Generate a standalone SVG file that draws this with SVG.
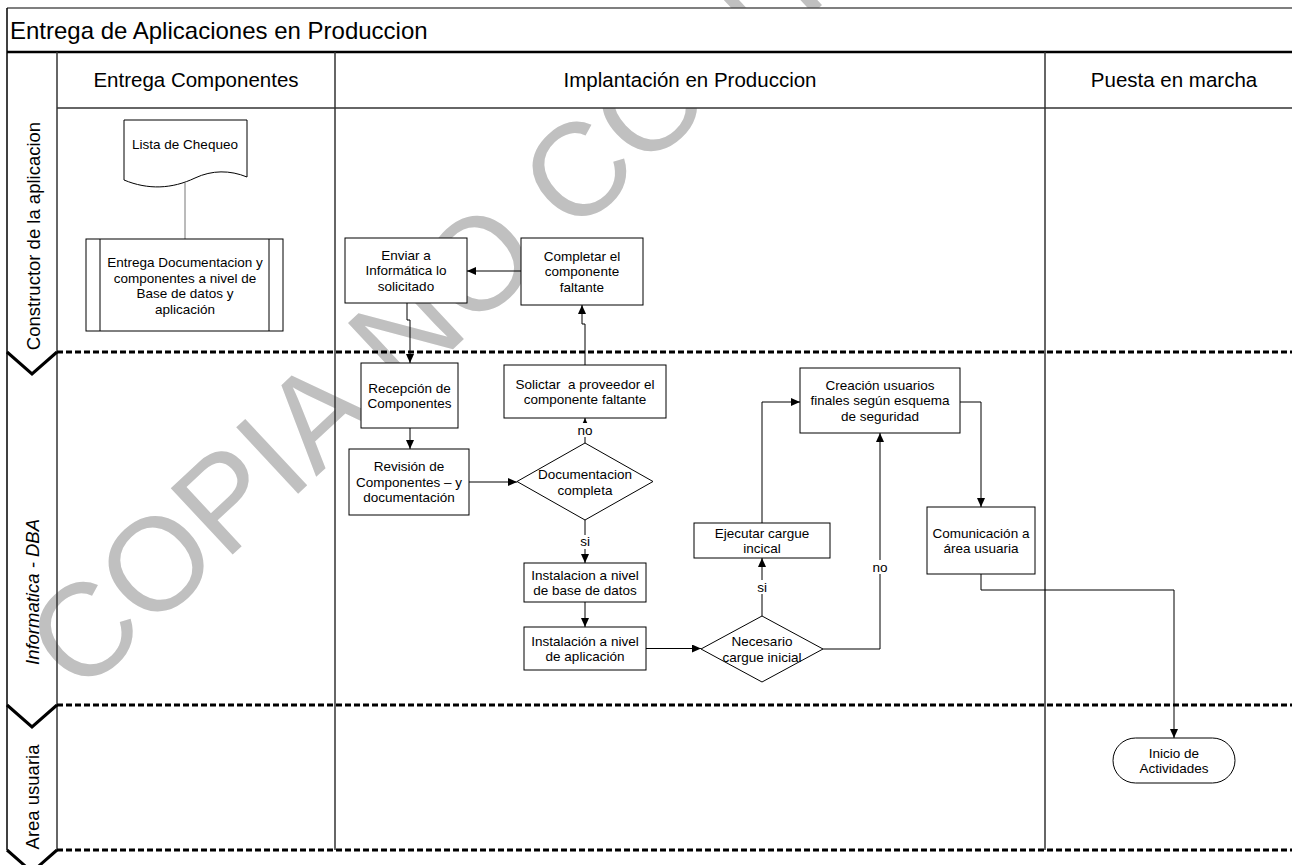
<svg xmlns="http://www.w3.org/2000/svg" width="1292" height="865" viewBox="0 0 1292 865">
<style>
text{font-family:"Liberation Sans",Arial,sans-serif;fill:#000}
.t{font-size:13.5px;text-anchor:middle}
.h{font-size:20.5px;text-anchor:middle}
.lane{font-size:18.5px;text-anchor:middle}
.box{fill:#fff;stroke:#000;stroke-width:1}
.conn{fill:none;stroke:#000;stroke-width:1}
.dash{fill:none;stroke:#000;stroke-width:3;stroke-dasharray:6 3}
.chev{fill:none;stroke:#000;stroke-width:3}
.frame{fill:none;stroke:#333;stroke-width:1.5}
.wm{font-size:132px;fill:#c0c0c0}
.lbl{fill:#fff;stroke:none}
</style>
<defs>
<marker id="ah" markerWidth="9" markerHeight="8" refX="9" refY="4" orient="auto" markerUnits="userSpaceOnUse">
<path d="M0,0 L9,4 L0,8 Z" fill="#000"/>
</marker>
</defs>
<rect x="0" y="0" width="1292" height="865" fill="#fff"/>
<g id="watermark">
<text class="wm" transform="translate(80,697) rotate(-43)">COPIA NO CONTROLADA</text>
</g>
<g id="frame">
<rect x="7" y="8" width="1285" height="100" fill="#fff"/>
<line x1="7" y1="8" x2="1292" y2="8" stroke="#555" stroke-width="1.5"/>
<line x1="7" y1="8" x2="7" y2="850" stroke="#000" stroke-width="1.5"/>
<line x1="7" y1="52" x2="1292" y2="52" stroke="#000" stroke-width="2.5"/>
<line x1="57" y1="52" x2="57" y2="850" class="frame"/>
<line x1="335" y1="52" x2="335" y2="850" class="frame"/>
<line x1="1045" y1="52" x2="1045" y2="850" class="frame"/>
<line x1="57" y1="108" x2="1292" y2="108" class="frame"/>
<text x="10" y="39" style="font-size:24px">Entrega de Aplicaciones en Produccion</text>
<text x="196" y="87" class="h">Entrega Componentes</text>
<text x="690" y="87" class="h">Implantación en Produccion</text>
<text x="1174" y="87" class="h">Puesta en marcha</text>
</g>
<g id="lanes">
<line x1="57" y1="352" x2="1292" y2="352" class="dash"/>
<line x1="57" y1="705" x2="1292" y2="705" class="dash"/>
<line x1="57" y1="850" x2="1292" y2="850" class="dash"/>
<polyline points="7,352 32,374 57,352" class="chev"/>
<polyline points="7,705 32,727 57,705" class="chev"/>
<polyline points="7,850 32,872 57,850" class="chev"/>
<text class="lane" transform="translate(40,236) rotate(-90)">Constructor de la aplicacion</text>
<text class="lane" transform="translate(39,592) rotate(-90)" style="font-style:italic">Informatica - DBA</text>
<text class="lane" transform="translate(39,797) rotate(-90)">Area usuaria</text>
</g>
<g id="connectors">
<path d="M185,183 V239" fill="none" stroke="#777" stroke-width="1"/>
<path d="M521,271 H467" class="conn" marker-end="url(#ah)"/>
<path d="M407,303 V320 H410 V363" class="conn" marker-end="url(#ah)"/>
<path d="M585,365 V324 H582 V305" class="conn" marker-end="url(#ah)"/>
<path d="M410,428 V449" class="conn" marker-end="url(#ah)"/>
<path d="M469,482 H517" class="conn" marker-end="url(#ah)"/>
<path d="M585,443 V418" class="conn" marker-end="url(#ah)"/>
<path d="M585,520 V563" class="conn" marker-end="url(#ah)"/>
<path d="M585,602 V627" class="conn" marker-end="url(#ah)"/>
<path d="M646,648.5 H701" class="conn" marker-end="url(#ah)"/>
<path d="M762,616 V558" class="conn" marker-end="url(#ah)"/>
<path d="M762,523 V402 H800" class="conn" marker-end="url(#ah)"/>
<path d="M823,649 H880 V433" class="conn" marker-end="url(#ah)"/>
<path d="M960,402 H981 V507" class="conn" marker-end="url(#ah)"/>
<path d="M981,574 V590 H1174 V738" class="conn" marker-end="url(#ah)"/>
<rect x="576" y="423" width="18" height="14" class="lbl"/>
<text x="585" y="435" class="t">no</text>
<rect x="578" y="535" width="14" height="14" class="lbl"/>
<text x="585" y="546" class="t">si</text>
<rect x="755" y="580" width="14" height="14" class="lbl"/>
<text x="762" y="592" class="t">si</text>
<rect x="871" y="560" width="18" height="14" class="lbl"/>
<text x="880" y="572" class="t">no</text>
</g>
<g id="lista">
<path d="M124,120 H247 V177 C230,170 212,170 195,178 C172,189 148,190 124,180 Z" class="box"/>
<text x="185" y="149" class="t">Lista de Chequeo</text>
</g>
<g id="entrega">
<rect x="86" y="239" width="197" height="92" class="box"/>
<line x1="100" y1="239" x2="100" y2="331" class="conn"/>
<line x1="269" y1="239" x2="269" y2="331" class="conn"/>
<text class="t"><tspan x="185" y="267">Entrega Documentacion y</tspan><tspan x="185" y="282.5">componentes a nivel de</tspan><tspan x="185" y="298">Base de datos y</tspan><tspan x="185" y="313.5">aplicación</tspan></text>
</g>
<g id="enviar">
<rect x="345" y="238" width="122" height="65" class="box"/>
<text class="t"><tspan x="406" y="259.7">Enviar a</tspan><tspan x="406" y="275.2">Informática lo</tspan><tspan x="406" y="290.7">solicitado</tspan></text>
</g>
<g id="completar">
<rect x="521" y="238" width="122" height="67" class="box"/>
<text class="t"><tspan x="582" y="260.7">Completar el</tspan><tspan x="582" y="276.2">componente</tspan><tspan x="582" y="291.7">faltante</tspan></text>
</g>
<g id="recepcion">
<rect x="361" y="363" width="97" height="65" class="box"/>
<text class="t"><tspan x="409.5" y="392.5">Recepción de</tspan><tspan x="409.5" y="408">Componentes</tspan></text>
</g>
<g id="solicitar">
<rect x="504" y="365" width="162" height="53" class="box"/>
<text class="t" xml:space="preserve"><tspan x="585" y="388.5">Solictar  a proveedor el</tspan><tspan x="585" y="404">componente faltante</tspan></text>
</g>
<g id="revision">
<rect x="349" y="449" width="120" height="66" class="box"/>
<text class="t"><tspan x="409" y="471.2">Revisión de</tspan><tspan x="409" y="486.7">Componentes – y</tspan><tspan x="409" y="502.2">documentación</tspan></text>
</g>
<g id="doc-completa">
<polygon points="585,443 653,481.5 585,520 517,481.5" class="box"/>
<text class="t"><tspan x="585" y="479">Documentacion</tspan><tspan x="585" y="494.5">completa</tspan></text>
</g>
<g id="inst-bd">
<rect x="524" y="563" width="122" height="39" class="box"/>
<text class="t"><tspan x="585" y="579.5">Instalacion a nivel</tspan><tspan x="585" y="595">de base de datos</tspan></text>
</g>
<g id="inst-app">
<rect x="524" y="627" width="122" height="43" class="box"/>
<text class="t"><tspan x="585" y="645.5">Instalación a nivel</tspan><tspan x="585" y="661">de aplicación</tspan></text>
</g>
<g id="necesario">
<polygon points="762,616 823,649 762,682 701,649" class="box"/>
<text class="t"><tspan x="762" y="646">Necesario</tspan><tspan x="762" y="661.5">cargue inicial</tspan></text>
</g>
<g id="ejecutar">
<rect x="694" y="523" width="136" height="35" class="box"/>
<text class="t"><tspan x="762" y="537.5">Ejecutar cargue</tspan><tspan x="762" y="553">incical</tspan></text>
</g>
<g id="creacion">
<rect x="800" y="368" width="160" height="65" class="box"/>
<text class="t"><tspan x="880" y="389.7">Creación usuarios</tspan><tspan x="880" y="405.2">finales según esquema</tspan><tspan x="880" y="420.7">de seguridad</tspan></text>
</g>
<g id="comunicacion">
<rect x="927" y="507" width="108" height="67" class="box"/>
<text class="t"><tspan x="981" y="537.5">Comunicación a</tspan><tspan x="981" y="553">área usuaria</tspan></text>
</g>
<g id="inicio">
<rect x="1113" y="738" width="122" height="45" rx="22.5" class="box"/>
<text class="t"><tspan x="1174" y="757.5">Inicio de</tspan><tspan x="1174" y="773">Actividades</tspan></text>
</g>
</svg>
